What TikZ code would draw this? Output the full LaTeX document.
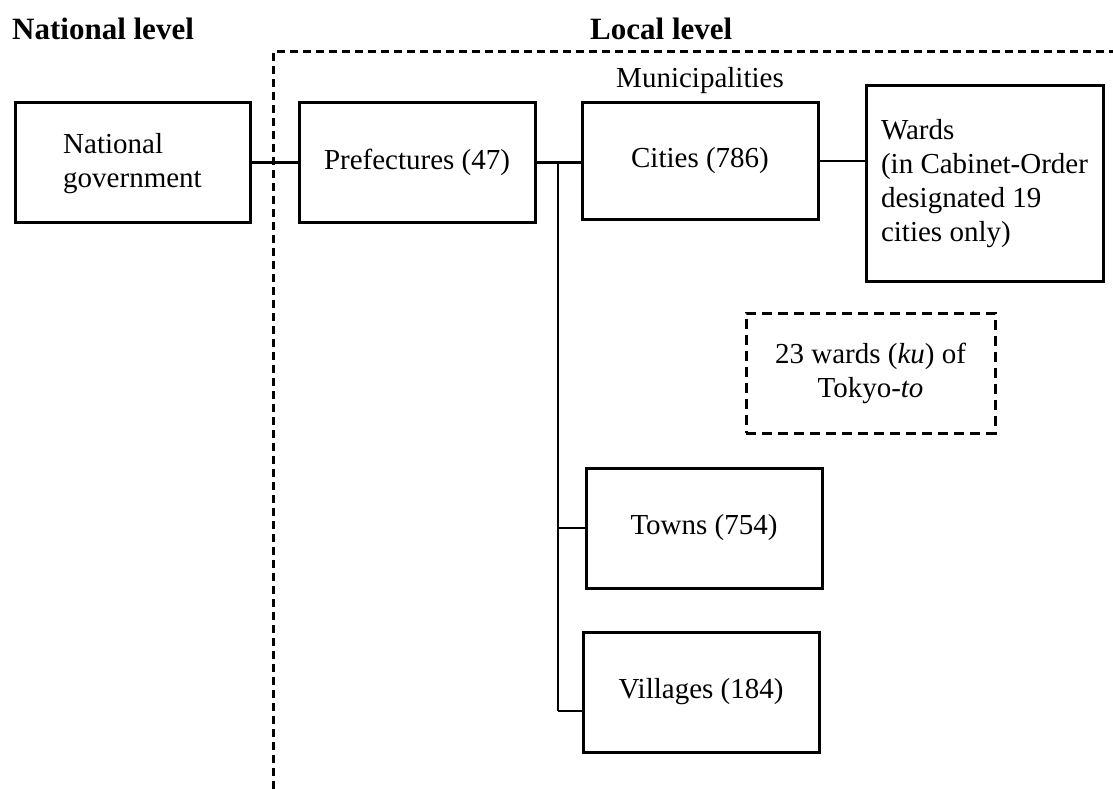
\documentclass[tikz,border=0pt]{standalone}
\usepackage{fontspec}
\setmainfont{Liberation Serif}
\begin{document}
\begin{tikzpicture}[x=1pt,y=-1pt,
  every node/.style={font=\fontsize{29}{34}\selectfont, inner sep=0pt},
  box/.style={draw, line width=3pt, align=center},
  dbox/.style={draw, line width=3pt, dash pattern=on 10pt off 6pt, align=center},
  conn/.style={line width=2.3pt},
  region/.style={line width=3pt, dash pattern=on 8pt off 5pt},
  heading/.style={font=\fontsize{31}{36}\selectfont\bfseries, anchor=base west}]
\useasboundingbox (0,0) rectangle (1113,789);

\node[heading] (natlvl) at (12,40) {National level};
\node[heading] (loclvl) at (590,40) {Local level};

\coordinate (rb) at (273,789);
\coordinate (rc) at (273,52);
\coordinate (rr) at (1113,52);
\draw[region] (rb) -- (rc) -- (rr);

\node[anchor=base] (muni) at (700,88) {Municipalities};

\node[box, minimum width=235pt, minimum height=119pt, align=left, text depth=4pt] (nat) at (132.5,162.5) {National\\government};
\node[box, minimum width=236pt, minimum height=120pt] (pref) at (417,162.5) {Prefectures (47)};
\node[box, minimum width=236pt, minimum height=116pt] (city) at (700,161) {Cities (786)};
\node[box, minimum width=237pt, minimum height=195pt, align=left] (ward) at (984.5,183.5) {Wards\\(in Cabinet-Order\\designated 19\\cities only)};
\node[dbox, minimum width=249pt, minimum height=120pt] (tokyo) at (870.5,373) {23 wards (\textit{ku}) of\\Tokyo-\textit{to}};
\node[box, minimum width=236pt, minimum height=120pt] (town) at (704,528) {Towns (754)};
\node[box, minimum width=236pt, minimum height=120pt] (vill) at (701,692) {Villages (184)};

\coordinate (bt) at (558,162);
\coordinate (bb) at (558,711);

\draw[conn] (nat.east) -- (pref.west);
\draw[conn] (pref.east) -- (pref.east -| city.west);
\draw[conn] (bt) -- (bb);
\draw[conn] (town.west -| bt) -- (town.west);
\draw[conn] (bb) -- (bb -| vill.west);
\draw[conn] (city.east) -- (city.east -| ward.west);
\end{tikzpicture}
\end{document}
